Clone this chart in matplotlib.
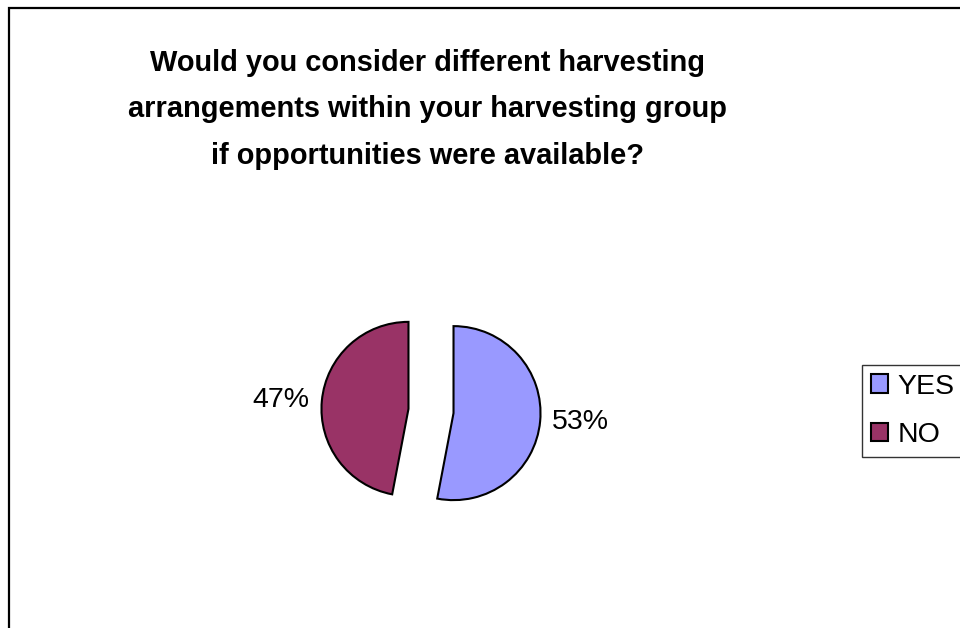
import matplotlib.pyplot as plt
from matplotlib.patches import Rectangle

plt.rcParams['font.family'] = ['Liberation Sans', 'DejaVu Sans']

# survey answers
answers = ["YES", "NO"]
shares = [53, 47]
colors = ["#9999FF", "#993366"]
title = ("Would you consider different harvesting\n"
         "arrangements within your harvesting group\n"
         "if opportunities were available?")

W, H = 960, 628
fig = plt.figure(figsize=(W / 100, H / 100), dpi=100)

# outer chart border (runs off the right and bottom edges)
fig.patches.append(Rectangle((9 / W, -0.1), 1.2, 1 - 8 / H + 0.1,
                             transform=fig.transFigure, fill=False,
                             edgecolor="black", linewidth=1.6))

fig.text(0.445, 1 - 49 / H, title, ha="center", va="top",
         fontsize=20.9, fontweight="bold", linespacing=1.83)

# axes covering the whole figure, 1 data unit = pie radius in pixels
cx, cy, r = 431, 411, 87
ax = fig.add_axes([0, 0, 1, 1])

wedges, texts = ax.pie(shares, colors=colors, startangle=90, counterclock=False,
                       explode=[0.26, 0.26], labels=[f"{s}%" for s in shares],
                       labeldistance=1.14, radius=1,
                       wedgeprops=dict(edgecolor="black", linewidth=1.5),
                       textprops=dict(fontsize=20.5))
ax.set_xlim(-cx / r, (W - cx) / r)
ax.set_ylim(-(H - cy) / r, cy / r)
ax.set_aspect("auto")
ax.axis("off")

leg = fig.legend(wedges, answers, loc="upper left",
                 bbox_to_anchor=(862 / W, 1 - 365 / H),
                 fontsize=20.5, frameon=True, fancybox=False,
                 handlelength=0.6, handleheight=0.6, handletextpad=0.35,
                 borderpad=0.3, labelspacing=0.8, borderaxespad=0)
leg.get_frame().set_edgecolor("black")
leg.get_frame().set_linewidth(1.0)

fig.savefig("out.png", dpi=100)
